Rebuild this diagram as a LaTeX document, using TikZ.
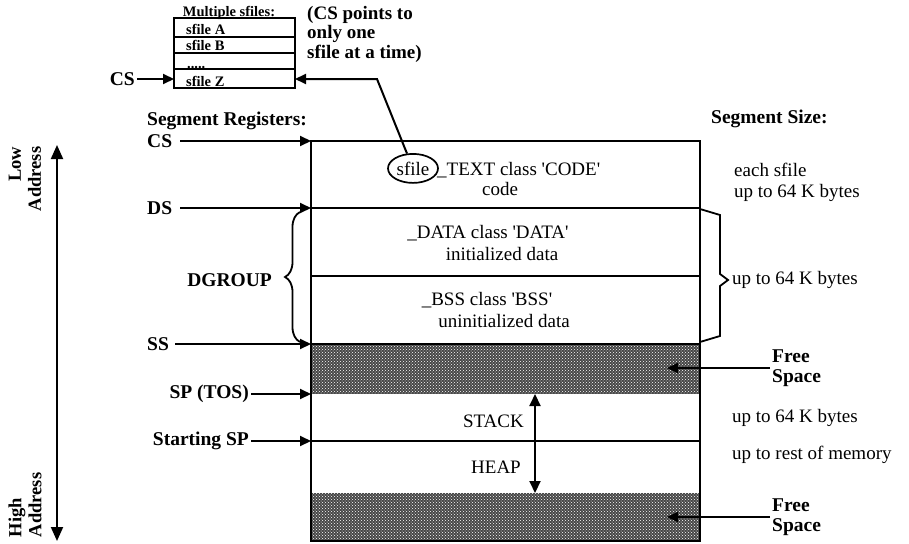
\documentclass[tikz,border=0pt]{standalone}
\usepackage{fontspec}
\setmainfont{Liberation Serif}
\usetikzlibrary{arrows.meta,shapes.geometric,patterns,decorations.pathreplacing}
\newcommand{\sq}{\textquotesingle}
\begin{document}
\begin{tikzpicture}[x=1pt,y=-1pt,
  txt/.style={font=\fontsize{19}{21}\selectfont, inner sep=2pt},
  btxt/.style={font=\fontsize{19.5}{20}\selectfont\bfseries, inner sep=2pt},
  stxt/.style={font=\fontsize{14.5}{15}\selectfont\bfseries, inner sep=0pt},
  arr/.style={line width=2pt, -{Triangle[length=11pt,width=10pt]}},
  darr/.style={line width=2pt, {Triangle[length=12pt,width=11pt]}-{Triangle[length=12pt,width=11pt]}},
  addrarr/.style={line width=2pt, {Triangle[length=14pt,width=12pt]}-{Triangle[length=14pt,width=12pt]}},
  boxline/.style={line width=2.4pt},
  divline/.style={line width=2pt},
  shadeband/.style={fill=black!72},
  specks/.style={pattern=crosshatch dots, pattern color=white},
  thinline/.style={line width=1.7pt}]
\useasboundingbox (0,0) rectangle (909,543);

% ---------- small sfile box ----------
\node[draw, thinline, minimum width=121pt, minimum height=70pt, inner sep=0pt] (files) at (234.5,53) {};
\draw[thinline] (174,37) -- (295,37);
\draw[thinline] (174,53) -- (295,53);
\draw[thinline] (174,69) -- (295,69);
\node[stxt, anchor=base] (mult) at (229,17) {Multiple sfiles:};
\node[stxt, anchor=base west] (fa) at (186,35) {sfile A};
\node[stxt, anchor=base west] (fb) at (186,51) {sfile B};
\node[stxt, anchor=base west] (fd) at (187,68) {.....};
\node[stxt, anchor=base west] (fz) at (186,86) {sfile Z};
\coordinate (zL) at (174,79);
\coordinate (zR) at (295,79);
\node[btxt, anchor=east] (cs0) at (137,79) {CS};
\draw[arr] (cs0.east) -- (zL);
\node[btxt, anchor=north west, align=left, font=\fontsize{19}{19.5}\selectfont\bfseries] (note) at (305,4) {(CS points to\\only one\\sfile at a time)};

% ---------- main memory box ----------
\fill[shadeband] (311,344) rectangle (700,394);
\fill[specks] (311,344) rectangle (700,394);
\fill[shadeband] (311,493) rectangle (700,541);
\fill[specks] (311,493) rectangle (700,541);
\draw[divline] (311,208) -- (700,208);
\draw[divline] (311,276) -- (700,276);
\draw[divline] (311,344) -- (700,344);
\draw[divline] (311,441) -- (700,441);
\draw[boxline] (311,141) rectangle (700,541);

\coordinate (pCS) at (311,141);
\coordinate (pDS) at (311,208);
\coordinate (pSS) at (311,344);
\coordinate (pSP) at (311,394);
\coordinate (pST) at (311,441);

% texts inside box
\node[txt, draw, ellipse, thinline, minimum width=50pt, minimum height=29pt, inner sep=0pt, anchor=base] (sf) at (413,175) {sfile};
\node[txt, anchor=base west, inner sep=0pt] (tx) at (437,175) {\_TEXT class \sq CODE\sq};
\node[txt, anchor=base] (code) at (500,195) {code};
\node[txt, anchor=base] (data) at (488,238) {\_DATA class \sq DATA\sq};
\node[txt, anchor=base] (idata) at (502,260) {initialized data};
\node[txt, anchor=base] (bss) at (487,305) {\_BSS class \sq BSS\sq};
\node[txt, anchor=base] (udata) at (504,327) {uninitialized data};
\node[txt, anchor=base east] (stack) at (526,427) {STACK};
\node[txt, anchor=base east] (heap) at (523,473) {HEAP};
\coordinate (sTop) at (535,394);
\coordinate (sBot) at (535,493);
\draw[darr] (sTop) -- (sBot);

% leader from sfile ellipse to small box
\coordinate (bend) at (377,79);
\draw[arr] (sf.112) -- (bend) -- (zR);

% ---------- left labels ----------
\node[btxt, anchor=west] (segreg) at (145,121) {Segment Registers:};
\node[btxt, anchor=west] (cs) at (145,141) {CS};
\node[btxt, anchor=west] (ds) at (145,208) {DS};
\node[btxt, anchor=west] (ss) at (145,344) {SS};
\node[btxt, anchor=east] (sptos) at (251,394) {SP (TOS)};
\node[btxt, anchor=east] (stsp) at (251,441) {Starting SP};
\draw[arr] (cs.east) ++(6,0) -- (pCS);
\draw[arr] (ds.east) ++(6,0) -- (pDS);
\draw[arr] (ss.east) ++(4,0) -- (pSS);
\draw[arr] (sptos.east) -- (pSP);
\draw[arr] (stsp.east) -- (pST);

\node[btxt, anchor=east] (dgroup) at (274,280) {DGROUP};
\draw[line width=1.8pt, decorate, decoration={brace, amplitude=15pt}] (300,342) -- (300,212);

% address arrow and labels
\coordinate (aTop) at (57,145);
\coordinate (aBot) at (57,541);
\draw[addrarr] (aBot) -- (aTop);
\node[btxt, rotate=90, align=right, font=\fontsize{18.5}{20}\selectfont\bfseries] (low) at (25,179) {Low\\Address};
\node[btxt, rotate=90, align=left, font=\fontsize{18.5}{20}\selectfont\bfseries] (high) at (25,505) {High\\Address};

% ---------- right labels ----------
\node[btxt, anchor=west] (segsize) at (709,119) {Segment Size:};
\node[txt, anchor=west, align=left] (each) at (732,182) {each sfile\\up to 64 K bytes};
\draw[line width=1.8pt, line join=miter] (700,209) -- (720,215) -- (720,274) -- (728,280) -- (720,286) -- (720,336) -- (700,342);
\node[txt, anchor=west] (dg64) at (730,280) {up to 64 K bytes};
\node[btxt, anchor=west, align=left] (free1) at (770,368) {Free\\Space};
\node[btxt, anchor=west, align=left] (free2) at (770,517) {Free\\Space};
\coordinate (f1) at (667,368);
\coordinate (f2) at (667,517);
\draw[arr] (free1.west) -- (f1);
\draw[arr] (free2.west) -- (f2);
\node[txt, anchor=west] (st64) at (730,418) {up to 64 K bytes};
\node[txt, anchor=west] (rest) at (730,455) {up to rest of memory};
\end{tikzpicture}
\end{document}
